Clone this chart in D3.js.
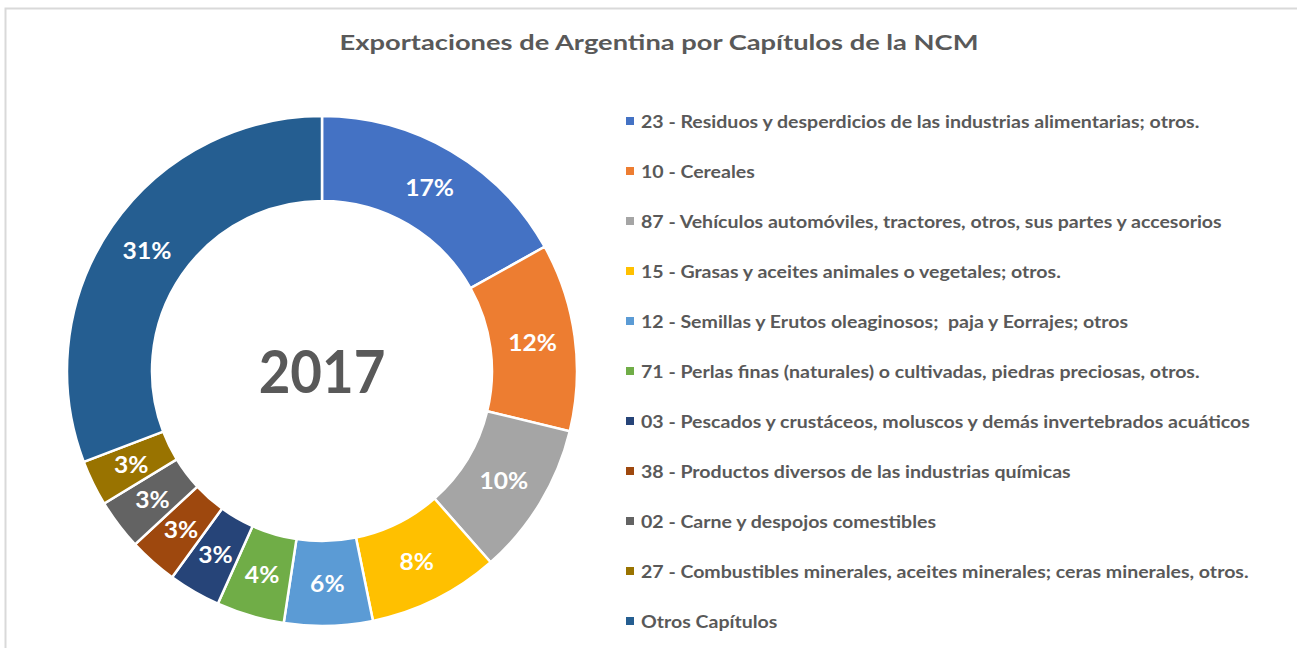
<!DOCTYPE html>
<html>
<head>
<meta charset="utf-8">
<script src="https://cdn.jsdelivr.net/npm/d3@7"></script>
<style>
  html, body { margin: 0; padding: 0; background: #fff; }
  svg { display: block; }
  .legend-text { white-space: pre; }
</style>
</head>
<body>
<svg id="chart" width="1297" height="648"></svg>
<script>
const categories = [
  "23 - Residuos y desperdicios de las industrias alimentarias; otros.",
  "10 - Cereales",
  "87 - Vehículos automóviles, tractores, otros, sus partes y accesorios",
  "15 - Grasas y aceites animales o vegetales; otros.",
  "12 - Semillas y Erutos oleaginosos;  paja y Eorrajes; otros",
  "71 - Perlas finas (naturales) o cultivadas, piedras preciosas, otros.",
  "03 - Pescados y crustáceos, moluscos y demás invertebrados acuáticos",
  "38 - Productos diversos de las industrias químicas",
  "02 - Carne y despojos comestibles",
  "27 - Combustibles minerales, aceites minerales; ceras minerales, otros.",
  "Otros Capítulos"
];
const values = [16.9, 11.9, 9.7, 8.3, 5.6, 4.3, 3.3, 3.1, 3.2, 2.9, 30.8];
const colors = ["#4472C4", "#ED7D31", "#A5A5A5", "#FFC000", "#5B9BD5", "#70AD47",
                "#264478", "#9E480E", "#636363", "#997300", "#255E91"];
const title = "Exportaciones de Argentina por Capítulos de la NCM";
const centerLabel = "2017";

const svg = d3.select("#chart");
const FONT = "Lato, 'Open Sans', sans-serif";

// frame
svg.append("rect")
  .attr("x", 5.5).attr("y", 8.5).attr("width", 1310).attr("height", 660)
  .attr("fill", "none").attr("stroke", "#d9d9d9").attr("stroke-width", 2);

// title
svg.append("text")
  .attr("transform", "translate(659,50) scale(1.3,1)")
  .attr("text-anchor", "middle")
  .attr("font-family", FONT).attr("font-size", 21).attr("font-weight", 700)
  .attr("fill", "#595959")
  .text(title);

const cx = 322, cy = 371, rOuter = 255, rInner = 170;
const g = svg.append("g").attr("transform", `translate(${cx},${cy})`);

const pie = d3.pie().sort(null).value(d => d);
const arcs = pie(values);
const arc = d3.arc().innerRadius(rInner).outerRadius(rOuter);
const labelArc = d3.arc().innerRadius((rInner + rOuter) / 2).outerRadius((rInner + rOuter) / 2);
const total = d3.sum(values);

g.selectAll("path.slice")
  .data(arcs)
  .join("path")
  .attr("class", "slice")
  .attr("d", arc)
  .attr("fill", (d, i) => colors[i])
  .attr("stroke", "#fff")
  .attr("stroke-width", 2.5);

g.selectAll("text.pct")
  .data(arcs)
  .join("text")
  .attr("class", "pct")
  .attr("transform", d => `translate(${labelArc.centroid(d)}) scale(1.12,1)`)
  .attr("text-anchor", "middle")
  .attr("dominant-baseline", "central")
  .attr("font-family", FONT).attr("font-size", 22).attr("font-weight", 700)
  .attr("fill", "#fff")
  .text(d => Math.round(d.data / total * 100) + "%");

g.append("text")
  .attr("transform", "translate(0,-2) scale(0.91,1)")
  .attr("text-anchor", "middle")
  .attr("dominant-baseline", "central")
  .attr("font-family", FONT).attr("font-size", 60).attr("font-weight", 700)
  .attr("fill", "#595959")
  .text(centerLabel);

// legend
const legendY = d3.scalePoint().domain(categories).range([121, 621]);
const lg = svg.append("g");
const items = lg.selectAll("g.item").data(categories).join("g")
  .attr("class", "item")
  .attr("transform", d => `translate(626,${legendY(d)})`);
items.append("rect")
  .attr("x", 0).attr("y", -4).attr("width", 8).attr("height", 8)
  .attr("fill", (d, i) => colors[i]);
items.append("text")
  .attr("class", "legend-text")
  .attr("transform", "translate(15,1) scale(1.15,1)")
  .attr("dominant-baseline", "central")
  .attr("font-family", FONT).attr("font-size", 17).attr("font-weight", 700)
  .attr("fill", "#595959")
  .text(d => d);
</script>
</body>
</html>
